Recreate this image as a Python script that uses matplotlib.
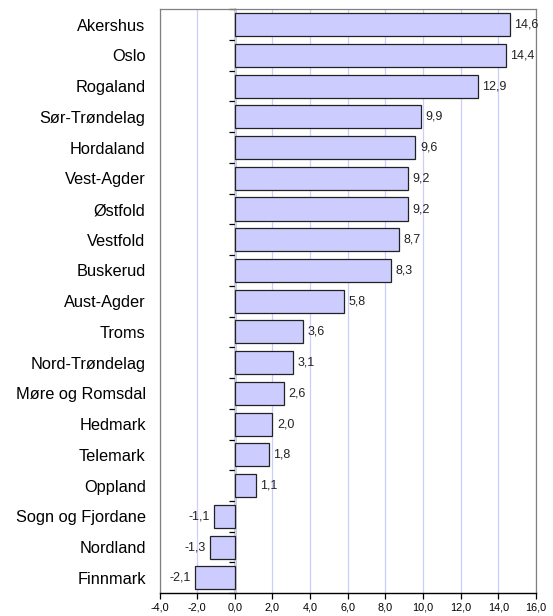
import matplotlib.pyplot as plt
import numpy as np

plt.rcParams['font.family'] = ['Liberation Sans', 'DejaVu Sans']

fylker = ['Akershus', 'Oslo', 'Rogaland', 'Sør-Trøndelag', 'Hordaland', 'Vest-Agder',
          'Østfold', 'Vestfold', 'Buskerud', 'Aust-Agder', 'Troms', 'Nord-Trøndelag',
          'Møre og Romsdal', 'Hedmark', 'Telemark', 'Oppland', 'Sogn og Fjordane',
          'Nordland', 'Finnmark']
vekst = [14.6, 14.4, 12.9, 9.9, 9.6, 9.2, 9.2, 8.7, 8.3, 5.8, 3.6, 3.1, 2.6, 2.0, 1.8, 1.1,
         -1.1, -1.3, -2.1]
xticks = [-4, -2, 0, 2, 4, 6, 8, 10, 12, 14, 16]

fig = plt.figure(figsize=(5.53, 6.16), dpi=100)
ax = fig.add_axes([0.2885, 0.037, 0.6805, 0.948])

y = np.arange(len(fylker))
ax.barh(y, vekst, height=0.75, color='#ccccff', edgecolor='#222222', linewidth=0.9, zorder=3)

for yi, v in zip(y, vekst):
    lab = f'{v:.1f}'.replace('.', ',')
    if v >= 0:
        ax.text(v + 0.25, yi, lab, va='center', ha='left', fontsize=9, color='#222222', zorder=4)
    else:
        ax.text(v - 0.25, yi, lab, va='center', ha='right', fontsize=9, color='#222222', zorder=4)

ax.set_xlim(-4, 16)
ax.set_ylim(len(fylker) - 0.5, -0.5)
ax.set_xticks(xticks)
ax.set_xticklabels([f'{t:.1f}'.replace('.', ',') for t in xticks], fontsize=7.8)
ax.tick_params(axis='x', direction='out', length=4, width=0.9, pad=3)
ax.set_yticks(y)
ax.set_yticklabels(fylker, fontsize=11.8)
ax.tick_params(axis='y', length=0, pad=10)

ax.grid(axis='x', color='#ccccff', linewidth=0.9, zorder=0)
for s in ['top', 'right', 'left']:
    ax.spines[s].set_color('#808080')
    ax.spines[s].set_linewidth(0.9)
ax.spines['bottom'].set_color('black')
ax.spines['bottom'].set_linewidth(1.0)

# kategoriakse ved 0
sec = ax.secondary_yaxis(0.2)
sec.set_yticks(np.arange(len(fylker) + 1) - 0.5)
sec.set_yticklabels([])
sec.tick_params(direction='out', length=4, width=0.9)
sec.spines['left'].set_color('black')
sec.spines['left'].set_linewidth(1.0)
sec.spines['left'].set_zorder(5)

fig.savefig('out.png', dpi=100)
